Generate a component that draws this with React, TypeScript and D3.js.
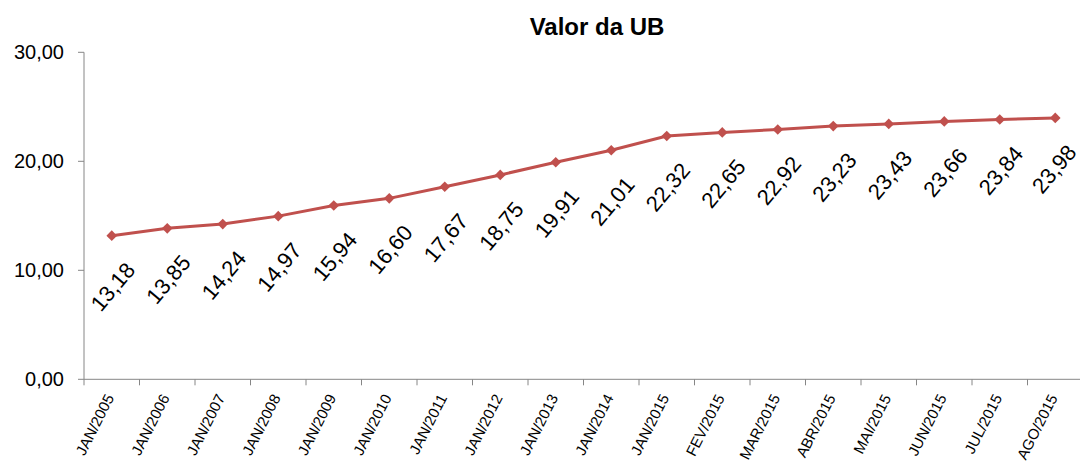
import { useRef, useEffect } from "react";
import * as d3 from "d3";

const months = [
  "JAN/2005", "JAN/2006", "JAN/2007", "JAN/2008", "JAN/2009", "JAN/2010",
  "JAN/2011", "JAN/2012", "JAN/2013", "JAN/2014", "JAN/2015", "FEV/2015",
  "MAR/2015", "ABR/2015", "MAI/2015", "JUN/2015", "JUL/2015", "AGO/2015",
];
const ubValues = [
  13.18, 13.85, 14.24, 14.97, 15.94, 16.6, 17.67, 18.75, 19.91, 21.01,
  22.32, 22.65, 22.92, 23.23, 23.43, 23.66, 23.84, 23.98,
];
const yTicks = [0, 10, 20, 30];

const fmt = (v: number) => v.toFixed(2).replace(".", ",");

export default function App() {
  const svgRef = useRef<SVGSVGElement>(null);

  useEffect(() => {
    if (!svgRef.current) return;
    const svg = d3.select(svgRef.current);
    svg.selectAll("*").remove();

    const width = 1080;
    const height = 467;
    const left = 84;
    const right = 1083;
    const top = 52.3;
    const bottom = 379.3;
    const font = "'Liberation Sans', Arial, sans-serif";
    const axisColor = "#868686";
    const lineColor = "#C0504D";

    svg.attr("viewBox", `0 0 ${width} ${height}`);

    const x = d3.scaleBand<string>().domain(months).range([left, right]);
    const y = d3.scaleLinear().domain([0, 30]).range([bottom, top]);

    // title
    svg.append("text")
      .attr("x", 597)
      .attr("y", 35)
      .attr("text-anchor", "middle")
      .attr("font-family", font)
      .attr("font-weight", "bold")
      .attr("font-size", 24)
      .text("Valor da UB");

    // y axis
    svg.append("line")
      .attr("x1", left).attr("x2", left)
      .attr("y1", top).attr("y2", bottom)
      .attr("stroke", axisColor);
    const yt = svg.append("g");
    yTicks.forEach(t => {
      yt.append("line")
        .attr("x1", left - 6).attr("x2", left)
        .attr("y1", y(t)).attr("y2", y(t))
        .attr("stroke", axisColor);
      yt.append("text")
        .attr("x", 64)
        .attr("y", y(t))
        .attr("dy", "0.35em")
        .attr("text-anchor", "end")
        .attr("font-family", font)
        .attr("font-size", 20)
        .text(fmt(t));
    });

    // x axis
    svg.append("line")
      .attr("x1", left).attr("x2", right)
      .attr("y1", bottom).attr("y2", bottom)
      .attr("stroke", axisColor);
    const xt = svg.append("g");
    months.forEach((m, i) => {
      const bx = x(m) as number;
      xt.append("line")
        .attr("x1", bx).attr("x2", bx)
        .attr("y1", bottom).attr("y2", bottom + 6)
        .attr("stroke", axisColor);
      if (i === months.length - 1) {
        xt.append("line")
          .attr("x1", bx + x.bandwidth()).attr("x2", bx + x.bandwidth())
          .attr("y1", bottom).attr("y2", bottom + 6)
          .attr("stroke", axisColor);
      }
      const cx = bx + x.bandwidth() / 2;
      xt.append("text")
        .attr("transform", `translate(${cx - 2},${bottom + 16}) rotate(-63)`)
        .attr("text-anchor", "end")
        .attr("dy", "0.35em")
        .attr("font-family", font)
        .attr("font-size", 15)
        .text(m);
    });

    const cxOf = (i: number) => (x(months[i]) as number) + x.bandwidth() / 2;

    // line
    const line = d3.line<number>()
      .x((_, i) => cxOf(i))
      .y(d => y(d));
    svg.append("path")
      .datum(ubValues)
      .attr("fill", "none")
      .attr("stroke", lineColor)
      .attr("stroke-width", 3)
      .attr("d", line);

    // markers
    const diamond = d3.symbol().type(d3.symbolDiamond2).size(72);
    svg.append("g")
      .selectAll("path")
      .data(ubValues)
      .join("path")
      .attr("transform", (d, i) => `translate(${cxOf(i)},${y(d)})`)
      .attr("d", diamond)
      .attr("fill", lineColor);

    // data labels (kept inside the right edge)
    svg.append("g")
      .selectAll("text")
      .data(ubValues)
      .join("text")
      .attr("transform", (d, i) =>
        `translate(${Math.min(cxOf(i) + 1, width - 26)},${y(d) + 51}) rotate(-50)`)
      .attr("text-anchor", "middle")
      .attr("dy", "0.35em")
      .attr("font-family", font)
      .attr("font-size", 22)
      .text(d => fmt(d));
  }, []);

  return (
    <svg
      ref={svgRef}
      width={1080}
      height={467}
      style={{ position: "absolute", left: 0, top: 0, background: "#fff" }}
    />
  );
}
